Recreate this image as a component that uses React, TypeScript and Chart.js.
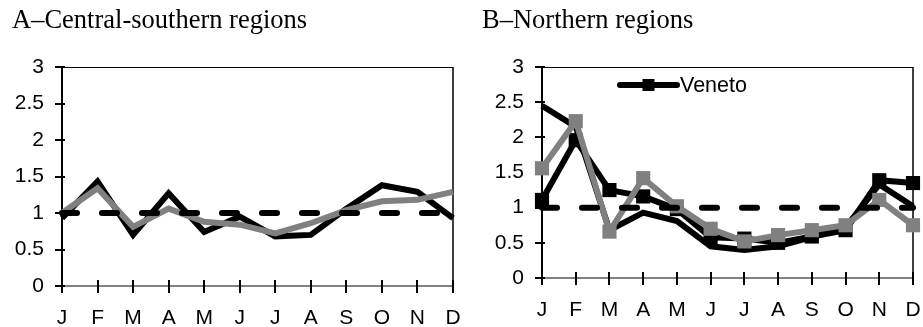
import React, { useEffect, useRef } from 'react';
import { Chart, registerables } from 'chart.js';

Chart.register(...registerables);

// ---------- data ----------
const months = ['J', 'F', 'M', 'A', 'M', 'J', 'J', 'A', 'S', 'O', 'N', 'D'];
const yTicks = [0, 0.5, 1, 1.5, 2, 2.5, 3];
const yTickLabels = ['0', '0.5', '1', '1.5', '2', '2.5', '3'];

const referenceLevel = [1, 1, 1, 1, 1, 1, 1, 1, 1, 1, 1, 1];

// A – Central-southern regions
const centralSouthBlack = [0.93, 1.43, 0.7, 1.27, 0.74, 0.95, 0.68, 0.7, 1.06, 1.38, 1.29, 0.93];
const centralSouthGray = [1.0, 1.34, 0.81, 1.06, 0.88, 0.84, 0.72, 0.86, 1.04, 1.16, 1.18, 1.29];

// B – Northern regions
const northBlack = [2.45, 2.15, 0.68, 0.93, 0.81, 0.45, 0.4, 0.45, 0.58, 0.72, 1.33, 1.02];
const veneto = [1.11, 1.96, 1.25, 1.16, 0.98, 0.58, 0.56, 0.5, 0.59, 0.68, 1.39, 1.35];
const northGray = [1.56, 2.23, 0.66, 1.42, 1.02, 0.7, 0.52, 0.61, 0.68, 0.75, 1.11, 0.75];

// ---------- styling ----------
const SANS = "'Liberation Sans', Arial, Helvetica, sans-serif";
const SERIF = "'Liberation Serif', 'Times New Roman', serif";
const BLACK = '#000000';
const GRAY = '#808080';

const framePlugin = {
  id: 'frame',
  beforeDatasetsDraw(chart: any) {
    const { ctx, chartArea, scales } = chart;
    const xs = scales.x;
    const ys = scales.y;
    ctx.save();
    ctx.strokeStyle = BLACK;
    // top border
    ctx.lineWidth = 1;
    ctx.beginPath();
    ctx.moveTo(chartArea.left, chartArea.top + 0.5);
    ctx.lineTo(chartArea.right, chartArea.top + 0.5);
    ctx.stroke();
    // right border
    ctx.lineWidth = 1.5;
    ctx.beginPath();
    ctx.moveTo(chartArea.right, chartArea.top);
    ctx.lineTo(chartArea.right, chartArea.bottom);
    ctx.stroke();
    // crossing ticks on y axis
    ctx.lineWidth = 2;
    ys.ticks.forEach((t: any) => {
      const py = Math.round(ys.getPixelForValue(t.value));
      ctx.beginPath();
      ctx.moveTo(chartArea.left - 7, py);
      ctx.lineTo(chartArea.left + 3, py);
      ctx.stroke();
    });
    // crossing ticks on x axis
    xs.ticks.forEach((_t: any, i: number) => {
      const px = Math.round(xs.getPixelForTick(i));
      ctx.beginPath();
      ctx.moveTo(px, chartArea.bottom - 6);
      ctx.lineTo(px, chartArea.bottom + 7);
      ctx.stroke();
    });
    ctx.restore();
  },
};

const insideLegendPlugin = {
  id: 'insideLegend',
  afterDatasetsDraw(chart: any, _args: any, opts: any) {
    if (!opts || !opts.label) return;
    const ds = chart.data.datasets.find((d: any) => d.label === opts.label);
    if (!ds) return;
    const { ctx, chartArea } = chart;
    const x0 = chartArea.left + opts.dx;
    const y = chartArea.top + opts.dy;
    const len = opts.lineLength;
    ctx.save();
    ctx.strokeStyle = ds.borderColor;
    ctx.lineWidth = ds.borderWidth;
    ctx.lineCap = 'round';
    ctx.beginPath();
    ctx.moveTo(x0, y);
    ctx.lineTo(x0 + len, y);
    ctx.stroke();
    const s = opts.markerSize;
    ctx.fillStyle = ds.pointBackgroundColor;
    ctx.fillRect(x0 + len / 2 - s / 2, y - s / 2, s, s);
    ctx.fillStyle = BLACK;
    ctx.font = `${opts.fontSize}px ${SANS}`;
    ctx.textBaseline = 'middle';
    ctx.textAlign = 'left';
    ctx.fillText(ds.label, x0 + len + 3, y + 1);
    ctx.restore();
  },
};

function lineDs(label: string, data: number[], color: string, marker: boolean, order: number, dashed = false) {
  return {
    label,
    data,
    borderColor: color,
    backgroundColor: color,
    borderWidth: 6,
    borderDash: dashed ? [15, 25] : [],
    borderCapStyle: dashed ? 'round' : 'butt',
    borderJoinStyle: 'miter',
    tension: 0,
    fill: false,
    pointStyle: 'rect',
    pointRadius: marker ? 10 : 0,
    pointHoverRadius: marker ? 10 : 0,
    pointBackgroundColor: color,
    pointBorderColor: color,
    pointBorderWidth: 0,
    clip: false,
    order,
  };
}

function makeOptions(axisWidth: number, xAxisHeight: number, rightPad: number, legend: any) {
  return {
    responsive: false,
    maintainAspectRatio: false,
    animation: false,
    events: [],
    layout: { padding: { left: 0, right: rightPad, top: 67, bottom: 0 } },
    plugins: {
      legend: { display: false },
      tooltip: { enabled: false },
      title: { display: false },
      insideLegend: legend,
    },
    scales: {
      x: {
        type: 'category',
        offset: false,
        grid: { display: false, drawTicks: false },
        border: { display: true, color: GRAY, width: 2 },
        ticks: {
          autoSkip: false,
          maxRotation: 0,
          padding: 20,
          color: BLACK,
          font: { family: SANS, size: 21 },
        },
        afterFit: (s: any) => {
          s.height = xAxisHeight;
          s.paddingLeft = 0;
          s.paddingRight = 0;
        },
      },
      y: {
        min: 0,
        max: 3,
        afterBuildTicks: (s: any) => {
          s.ticks = yTicks.map((v) => ({ value: v }));
        },
        grid: { display: false, drawTicks: false },
        border: { display: true, color: BLACK, width: 2 },
        ticks: {
          padding: 18,
          color: BLACK,
          font: { family: SANS, size: 21 },
          callback: (v: number) => {
            const i = yTicks.indexOf(v);
            return i >= 0 ? yTickLabels[i] : '';
          },
        },
        afterFit: (s: any) => {
          s.width = axisWidth;
          s.paddingTop = 0;
          s.paddingBottom = 0;
        },
      },
    },
  };
}

export default function App() {
  const refA = useRef<HTMLCanvasElement>(null);
  const refB = useRef<HTMLCanvasElement>(null);

  useEffect(() => {
    const chartA = new Chart(refA.current as HTMLCanvasElement, {
      type: 'line',
      data: {
        labels: months,
        datasets: [
          lineDs('Reference', referenceLevel, BLACK, false, 1, true),
          lineDs('Central-southern (grey)', centralSouthGray, GRAY, false, 2),
          lineDs('Central-southern (black)', centralSouthBlack, BLACK, false, 3),
        ],
      } as any,
      options: makeOptions(62, 41, 17, {}) as any,
      plugins: [framePlugin, insideLegendPlugin],
    });
    const chartB = new Chart(refB.current as HTMLCanvasElement, {
      type: 'line',
      data: {
        labels: months,
        datasets: [
          lineDs('Reference', referenceLevel, BLACK, false, 1, true),
          lineDs('Northern (grey)', northGray, GRAY, true, 2),
          lineDs('Veneto', veneto, BLACK, true, 3),
          lineDs('Northern (black)', northBlack, BLACK, false, 4),
        ],
      } as any,
      options: makeOptions(82, 49, 9, {
        label: 'Veneto',
        dx: 78,
        dy: 18,
        lineLength: 57,
        markerSize: 12,
        fontSize: 21.5,
      }) as any,
      plugins: [framePlugin, insideLegendPlugin],
    });
    return () => {
      chartA.destroy();
      chartB.destroy();
    };
  }, []);

  const titleStyle: React.CSSProperties = {
    position: 'absolute',
    top: 6,
    fontFamily: SERIF,
    fontSize: 26.5,
    lineHeight: '26px',
    color: '#000',
    whiteSpace: 'nowrap',
  };

  return (
    <div style={{ position: 'absolute', left: 0, top: 0, width: 923, height: 327, background: '#fff', overflow: 'hidden' }}>
      <canvas ref={refA} width={470} height={327} style={{ position: 'absolute', left: 0, top: 0 }} />
      <canvas ref={refB} width={463} height={327} style={{ position: 'absolute', left: 460, top: 0 }} />
      <div style={{ ...titleStyle, left: 12 }}>A–Central-southern regions</div>
      <div style={{ ...titleStyle, left: 482 }}>B–Northern regions</div>
    </div>
  );
}
